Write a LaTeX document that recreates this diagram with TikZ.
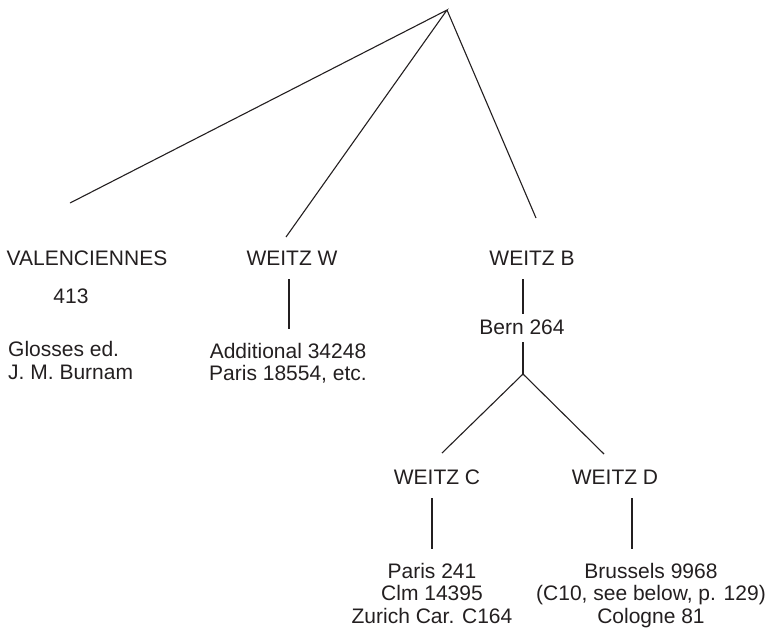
\documentclass[tikz,border=0pt]{standalone}
\usepackage{fontspec}
\setmainfont{Liberation Sans}
\definecolor{ink}{HTML}{231F20}
\begin{document}
\begin{tikzpicture}[x=1pt,y=-1pt,
  lbl/.style={inner sep=0pt,anchor=base,font=\fontsize{21}{25}\selectfont,text=ink},
  lblw/.style={lbl,anchor=base west},
  edge/.style={draw=ink,line width=1.1pt}]
\useasboundingbox (0,0) rectangle (770,627);
% coordinates
\coordinate (apex) at (447,10);
\coordinate (eV) at (70,203);
\coordinate (eW) at (286,237);
\coordinate (eB) at (536,218);
\coordinate (w1) at (289,279);
\coordinate (w2) at (289,329);
\coordinate (b1) at (523,279);
\coordinate (b2) at (523,314);
\coordinate (b3) at (523,342);
\coordinate (split) at (523,374);
\coordinate (sC) at (442,453);
\coordinate (sD) at (604,454);
\coordinate (c1) at (432,498);
\coordinate (c2) at (432,549);
\coordinate (d1) at (632,498);
\coordinate (d2) at (632,549);
% texts
\node[lbl] (val) at (87,265) {VALENCIENNES};
\node[lbl] (v413) at (71,303) {413};
\node[lblw] (gl1) at (8,356) {Glosses ed.};
\node[lblw] (gl2) at (8,379) {J. M. Burnam};
\node[lbl] (ww) at (292,265) {WEITZ W};
\node[lbl] (add1) at (288,358) {Additional 34248};
\node[lbl] (add2) at (288,380) {Paris 18554, etc.};
\node[lbl] (wb) at (532,265) {WEITZ B};
\node[lbl] (bern) at (522,334) {Bern 264};
\node[lbl] (wc) at (437,484) {WEITZ C};
\node[lbl] (wd) at (615,484) {WEITZ D};
\node[lbl] (c1t) at (432,578) {Paris 241};
\node[lbl] (c2t) at (432,600) {Clm 14395};
\node[lbl] (c3t) at (432,623) {Zurich Car. C164};
\node[lbl] (d1t) at (651,578) {Brussels 9968};
\node[lbl] (d2t) at (651,600) {(C10, see below, p. 129)};
\node[lbl] (d3t) at (651,623) {Cologne 81};
% connectors
\draw[edge] (eV) -- (apex) -- (eW);
\draw[edge] (apex) -- (eB);
\draw[edge] (w1) -- (w2);
\draw[edge] (b1) -- (b2);
\draw[edge] (b3) -- (split);
\draw[edge] (sC) -- (split) -- (sD);
\draw[edge] (c1) -- (c2);
\draw[edge] (d1) -- (d2);
\end{tikzpicture}
\end{document}
